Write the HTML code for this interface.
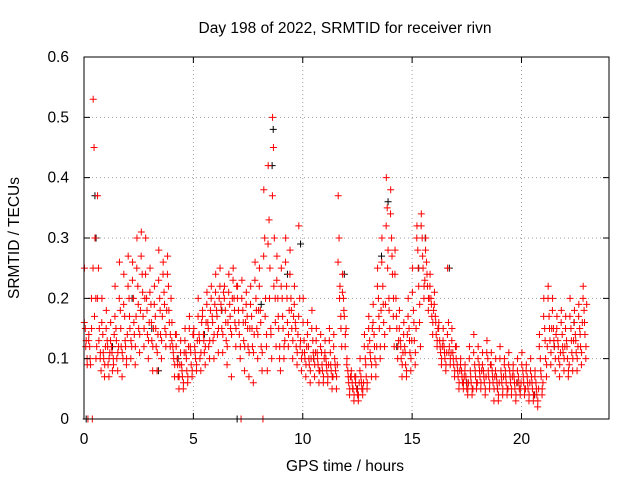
<!DOCTYPE html>
<html><head><meta charset="utf-8"><style>
body{margin:0;background:#fff}
svg text{font-family:"Liberation Sans",sans-serif;font-size:15.5px;fill:#000}
</style></head><body>
<svg id="chart" width="640" height="480">
<text x="345" y="33" text-anchor="middle">Day 198 of 2022, SRMTID for receiver rivn</text>
<text x="345" y="471" text-anchor="middle">GPS time / hours</text>
<text transform="translate(19,238) rotate(-90)" text-anchor="middle">SRMTID / TECUs</text>
<g id="grid"></g>
<g id="marks"></g>
<rect x="84" y="57" width="525" height="362" fill="none" stroke="#000"/>
<g id="ticks"></g>
</svg>
<script>
const xTicks=[0,5,10,15,20];
const yTicks=[0,0.1,0.2,0.3,0.4,0.5,0.6];
const yTickLabels=["0","0.1","0.2","0.3","0.4","0.5","0.6"];
const binWidth=0.2;
const redBins=[
[0.25,0.15,0.13,0.10,0.0],[0.14,0.12,0.09,0.2,0.0],[0.53,0.45,0.3,0.2,0.12],[0.37,0.25,0.15,0.1,0.08],[0.2,0.14,0.1,0.07,0.12],
[0.18,0.13,0.09,0.07,0.11],[0.16,0.12,0.08,0.1,0.14],[0.22,0.15,0.1,0.08,0.12],[0.26,0.18,0.12,0.07,0.1],[0.24,0.17,0.12,0.09,0.14],
[0.27,0.2,0.15,0.1,0.12],[0.26,0.2,0.14,0.09,0.17],[0.3,0.22,0.15,0.11,0.18],[0.31,0.24,0.17,0.12,0.2],[0.3,0.2,0.14,0.1,0.16],
[0.25,0.19,0.13,0.08,0.15],[0.22,0.17,0.12,0.08,0.14],[0.28,0.2,0.14,0.1,0.17],[0.26,0.21,0.15,0.12,0.18],[0.27,0.22,0.16,0.12,0.2],
[0.16,0.12,0.1,0.07,0.14],[0.14,0.1,0.07,0.05,0.09],[0.13,0.09,0.07,0.05,0.11],[0.15,0.11,0.08,0.06,0.12],[0.17,0.12,0.09,0.07,0.14],
[0.15,0.12,0.1,0.08,0.13],[0.2,0.14,0.1,0.08,0.16],[0.18,0.14,0.11,0.09,0.16],[0.21,0.16,0.12,0.1,0.18],[0.22,0.17,0.13,0.1,0.19],
[0.24,0.18,0.14,0.11,0.2],[0.25,0.19,0.15,0.11,0.21],[0.22,0.18,0.13,0.09,0.16],[0.24,0.19,0.15,0.07,0.2],[0.25,0.2,0.16,0.12,0.22],
[0.22,0.18,0.14,0.1,0.0],[0.23,0.18,0.13,0.08,0.16],[0.21,0.17,0.12,0.07,0.15],[0.22,0.17,0.12,0.06,0.14],[0.26,0.2,0.15,0.1,0.18],
[0.25,0.18,0.12,0.08,0.0],[0.38,0.3,0.2,0.12,0.08],[0.42,0.33,0.25,0.15,0.1],[0.5,0.45,0.3,0.2,0.12],[0.27,0.2,0.15,0.1,0.08],
[0.25,0.2,0.15,0.1,0.13],[0.3,0.22,0.16,0.12,0.18],[0.28,0.2,0.15,0.1,0.17],[0.22,0.16,0.12,0.09,0.14],[0.32,0.2,0.13,0.08,0.11],
[0.2,0.13,0.1,0.07,0.12],[0.16,0.12,0.09,0.06,0.1],[0.18,0.13,0.1,0.07,0.11],[0.15,0.11,0.09,0.06,0.08],[0.14,0.11,0.08,0.06,0.1],
[0.13,0.1,0.08,0.06,0.09],[0.15,0.11,0.08,0.05,0.07],[0.14,0.1,0.08,0.05,0.09],[0.37,0.3,0.22,0.17,0.12],[0.24,0.2,0.17,0.12,0.15],
[0.1,0.08,0.06,0.04,0.07],[0.08,0.06,0.05,0.03,0.07],[0.07,0.05,0.04,0.03,0.06],[0.1,0.07,0.05,0.04,0.06],[0.14,0.1,0.07,0.05,0.12],
[0.17,0.13,0.1,0.07,0.15],[0.19,0.14,0.1,0.07,0.12],[0.25,0.2,0.15,0.1,0.18],[0.3,0.22,0.16,0.12,0.19],[0.4,0.35,0.28,0.2,0.15],
[0.38,0.3,0.24,0.17,0.12],[0.28,0.2,0.15,0.1,0.13],[0.18,0.13,0.1,0.07,0.11],[0.16,0.12,0.09,0.07,0.14],[0.2,0.15,0.11,0.08,0.13],
[0.25,0.18,0.13,0.09,0.15],[0.32,0.28,0.22,0.16,0.12],[0.34,0.3,0.25,0.2,0.23],[0.3,0.26,0.22,0.18,0.2],[0.24,0.2,0.17,0.14,0.18],
[0.21,0.17,0.14,0.12,0.15],[0.16,0.13,0.11,0.09,0.12],[0.15,0.12,0.1,0.08,0.11],[0.25,0.16,0.12,0.09,0.11],[0.15,0.11,0.09,0.07,0.12],
[0.12,0.09,0.07,0.05,0.08],[0.1,0.08,0.06,0.05,0.07],[0.09,0.07,0.05,0.04,0.06],[0.12,0.08,0.06,0.04,0.05],[0.14,0.09,0.07,0.05,0.06],
[0.12,0.09,0.07,0.05,0.08],[0.11,0.08,0.06,0.04,0.07],[0.13,0.1,0.07,0.05,0.09],[0.11,0.08,0.06,0.03,0.07],[0.1,0.07,0.05,0.03,0.06],
[0.12,0.08,0.06,0.04,0.07],[0.1,0.08,0.06,0.04,0.05],[0.11,0.08,0.06,0.04,0.07],[0.09,0.07,0.05,0.03,0.06],[0.1,0.07,0.05,0.04,0.06],
[0.11,0.08,0.06,0.04,0.05],[0.09,0.07,0.05,0.03,0.06],[0.1,0.07,0.05,0.03,0.04],[0.08,0.06,0.04,0.02,0.05],[0.14,0.1,0.07,0.04,0.06],
[0.2,0.15,0.1,0.07,0.12],[0.22,0.17,0.13,0.09,0.15],[0.2,0.15,0.12,0.08,0.14],[0.17,0.13,0.1,0.07,0.11],[0.18,0.14,0.11,0.08,0.12],
[0.17,0.13,0.1,0.07,0.09],[0.2,0.15,0.11,0.08,0.13],[0.18,0.14,0.11,0.08,0.12],[0.19,0.15,0.12,0.09,0.16],[0.22,0.18,0.14,0.1,0.19]
];
const redBins2=[
[0.16,0.12,0.09],[0.13,0.1,0.15],[0.25,0.17,0.1],[0.2,0.13,0.11],[0.16,0.11,0.09],
[0.15,0.12,0.1],[0.13,0.11,0.09],[0.17,0.13,0.11],[0.2,0.15,0.11],[0.19,0.13,0.1],
[0.22,0.17,0.13],[0.23,0.16,0.12],[0.25,0.19,0.14],[0.27,0.21,0.15],[0.24,0.18,0.13],
[0.21,0.16,0.12],[0.19,0.15,0.11],[0.23,0.18,0.13],[0.24,0.19,0.14],[0.24,0.18,0.14],
[0.13,0.11,0.09],[0.12,0.09,0.07],[0.11,0.08,0.06],[0.13,0.1,0.07],[0.15,0.11,0.08],
[0.14,0.11,0.09],[0.17,0.13,0.11],[0.17,0.13,0.12],[0.19,0.15,0.13],[0.2,0.16,0.14],
[0.21,0.17,0.15],[0.22,0.18,0.14],[0.2,0.16,0.12],[0.21,0.17,0.14],[0.23,0.18,0.15],
[0.2,0.16,0.12],[0.2,0.16,0.12],[0.19,0.15,0.11],[0.19,0.15,0.11],[0.23,0.18,0.14],
[0.22,0.16,0.11],[0.27,0.17,0.14],[0.29,0.2,0.14],[0.37,0.22,0.16],[0.23,0.17,0.12],
[0.22,0.17,0.12],[0.26,0.2,0.14],[0.24,0.18,0.13],[0.19,0.15,0.11],[0.17,0.12,0.1],
[0.16,0.11,0.09],[0.14,0.1,0.08],[0.15,0.11,0.09],[0.13,0.1,0.08],[0.12,0.09,0.07],
[0.11,0.09,0.07],[0.13,0.09,0.07],[0.12,0.09,0.07],[0.26,0.2,0.15],[0.21,0.18,0.14],
[0.09,0.07,0.05],[0.07,0.05,0.04],[0.06,0.05,0.04],[0.08,0.06,0.05],[0.12,0.09,0.06],
[0.15,0.11,0.09],[0.16,0.12,0.09],[0.22,0.17,0.12],[0.26,0.19,0.14],[0.32,0.25,0.18],
[0.34,0.27,0.2],[0.24,0.17,0.12],[0.15,0.12,0.09],[0.14,0.11,0.08],[0.17,0.13,0.1],
[0.21,0.16,0.11],[0.3,0.25,0.19],[0.32,0.27,0.22],[0.28,0.24,0.2],[0.22,0.19,0.16],
[0.19,0.16,0.13],[0.15,0.12,0.1],[0.13,0.11,0.09],[0.14,0.11,0.1],[0.13,0.1,0.08],
[0.1,0.08,0.06],[0.09,0.07,0.06],[0.08,0.06,0.05],[0.1,0.07,0.05],[0.11,0.08,0.06],
[0.1,0.08,0.06],[0.09,0.07,0.05],[0.11,0.08,0.06],[0.09,0.07,0.05],[0.08,0.06,0.04],
[0.1,0.07,0.05],[0.09,0.07,0.05],[0.09,0.07,0.05],[0.08,0.06,0.04],[0.08,0.06,0.05],
[0.09,0.07,0.05],[0.08,0.06,0.04],[0.08,0.06,0.04],[0.07,0.05,0.03],[0.12,0.08,0.05],
[0.17,0.13,0.09],[0.2,0.15,0.11],[0.18,0.13,0.1],[0.15,0.12,0.09],[0.16,0.12,0.1],
[0.15,0.12,0.08],[0.17,0.13,0.1],[0.16,0.13,0.1],[0.17,0.14,0.11],[0.2,0.16,0.12]
];
const blackTimes=[0.1,0.5,0.55,1.3,2.2,3.1,3.4,4.3,5.5,6.3,7.0,8.1,8.6,8.65,9.3,9.9,10.5,11.9,12.5,13.6,13.9,14.3,15.3,15.6,16.7,17.5,18.9,19.8,20.6,21.5,22.4];
const blackValues=[0.0,0.37,0.3,0.12,0.2,0.15,0.08,0.1,0.14,0.18,0.0,0.19,0.42,0.48,0.24,0.29,0.1,0.24,0.05,0.27,0.36,0.12,0.25,0.3,0.25,0.06,0.05,0.06,0.04,0.12,0.16];
const X0=84,X1=609,Y0=419,Y1=57,XMAX=24,YMAX=0.6;
const xs=t=>X0+(X1-X0)*t/XMAX;
const ys=v=>Y0-(Y0-Y1)*v/YMAX;
const NS="http://www.w3.org/2000/svg";
const grid=document.getElementById('grid'),ticks=document.getElementById('ticks'),marks=document.getElementById('marks');
function mk(tag,attrs,parent){const e=document.createElementNS(NS,tag);for(const k in attrs)e.setAttribute(k,attrs[k]);parent.appendChild(e);return e;}
xTicks.forEach(t=>{const x=xs(t);
 if(t>0){const g=mk('line',{x1:x,x2:x,y1:Y0,y2:Y1,stroke:'#a0a0a0','stroke-dasharray':'1,3'},grid);
 
 }
 const tk=mk('path',{d:`M${x},${Y0}v-6M${x},${Y1}v6`,stroke:'#000'},ticks);
 
 
 const l=mk('text',{x:x,y:Y0+25,'text-anchor':'middle'},ticks);l.textContent=t;
 
 
});
yTicks.forEach((v,i)=>{const y=ys(v);
 if(i>0&&i<yTicks.length-1){const g=mk('line',{x1:X0,x2:X1,y1:y,y2:y,stroke:'#a0a0a0','stroke-dasharray':'1,3'},grid);
 
 }
 const tk=mk('path',{d:`M${X0},${y}h6M${X1},${y}h-6`,stroke:'#000'},ticks);
 
 
 const l=mk('text',{x:X0-15,y:y+5,'text-anchor':'end'},ticks);l.textContent=yTickLabels[i];
 
 
});
function plus(t,v,color,name){const x=xs(t),y=ys(v);
 const p=mk('path',{d:`M${x-3.5},${y}h7M${x},${y-3.5}v7`,stroke:color,'stroke-width':1},marks);
 
 }
blackTimes.forEach((t,i)=>plus(t,blackValues[i],'#000','black-point'));
redBins.forEach((bin,b)=>{bin.forEach((v,j)=>{plus(b*binWidth+binWidth*(j+0.5)/bin.length,v,'#ff0000','red-point');});});
redBins2.forEach((bin,b)=>{bin.forEach((v,j)=>{plus(b*binWidth+binWidth*(j+0.2)/bin.length,v,'#ff0000','red-point');});});
</script>
</body></html>
